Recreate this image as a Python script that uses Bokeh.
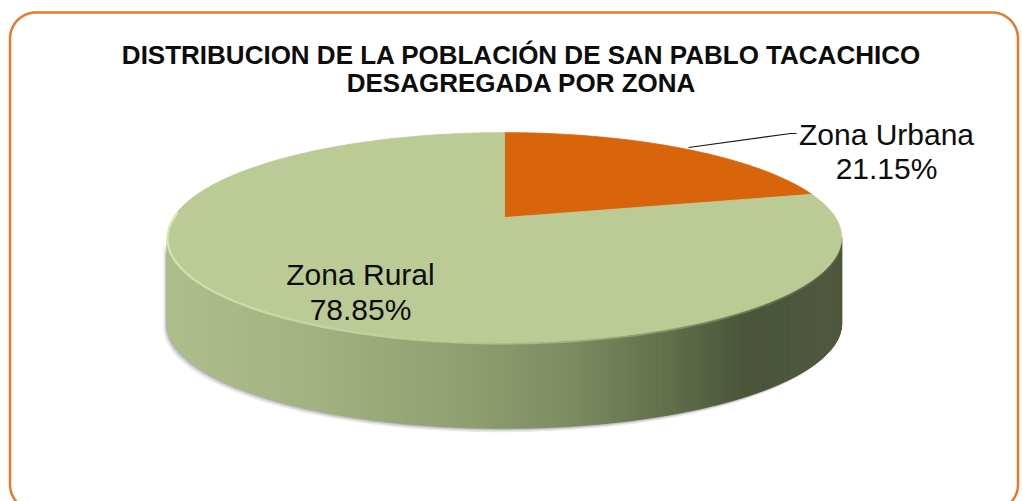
import numpy as np
from bokeh.plotting import figure
from bokeh.models import Range1d, Label
from bokeh.embed import file_html
from bokeh.resources import INLINE

# ---- data ----
categories = ["Zona Urbana", "Zona Rural"]
percentages = [21.15, 78.85]
slice_colors = ["#d8650b", "#bccb96"]
title_lines = ["DISTRIBUCION DE LA POBLACIÓN DE SAN PABLO TACACHICO",
               "DESAGREGADA POR ZONA"]

# ---- figure (screen pixel coordinates) ----
W, H = 1022, 501
p = figure(width=W, height=H, output_backend="svg", toolbar_location=None,
           x_range=Range1d(0, W), y_range=Range1d(H, 0),
           x_axis_location=None, y_axis_location=None, min_border=0)
p.grid.visible = False
p.outline_line_color = None
p.background_fill_color = "white"

# ---- 3D pie geometry (perspective disc) ----
CX, CY, A, B, K, D = 504.0, 217.0, 331.0, 101.0, 0.19, 86.0


def proj(t):
    d = 1 + K * np.sin(t)
    return CX + A * np.cos(t) / d, CY - B * np.sin(t) / d


tL = np.pi + np.arcsin(K)
tR = 2 * np.pi - np.arcsin(K)

# shadow
ts = np.linspace(tL, tR, 200)
sx, sy = proj(ts)
shx = np.concatenate([sx, sx[::-1]])
shy = np.concatenate([sy, sy[::-1] + D])
for off, al in [(4, 0.12), (2.5, 0.18), (1.2, 0.25)]:
    p.patch(shx - off, shy + off, fill_color="#555555", fill_alpha=al, line_color=None)

# side with horizontal gradient
stops = [(0.0, "#aebf8c"), (0.2, "#a4b482"), (0.45, "#909f70"), (0.6, "#7d8c62"),
         (0.75, "#616e4a"), (0.86, "#4b553a"), (1.0, "#505a3e")]
sp = np.array([s[0] for s in stops])
rgb = np.array([[int(c[i:i + 2], 16) for i in (1, 3, 5)] for _, c in stops])

N = 240
tt = np.linspace(tL, tR, N + 1)
px, py = proj(tt)
xs, ys, cols = [], [], []
xmin, xmax = px.min(), px.max()
for i in range(N):
    xs.append([px[i], px[i + 1], px[i + 1], px[i]])
    ys.append([py[i], py[i + 1], py[i + 1] + D, py[i] + D])
    f = ((px[i] + px[i + 1]) / 2 - xmin) / (xmax - xmin)
    c = [int(np.interp(f, sp, rgb[:, j])) for j in range(3)]
    cols.append("#%02x%02x%02x" % tuple(c))
p.patches(xs, ys, fill_color=cols, line_color=cols, line_width=1)

# top face wedges
start = np.pi / 2
for pct, col in zip(percentages, slice_colors):
    sweep = 2 * np.pi * pct / 100.0
    t = np.linspace(start, start - sweep, max(int(400 * pct / 100), 20))
    wx, wy = proj(t)
    p.patch(np.concatenate([[CX], wx]), np.concatenate([[CY], wy]),
            fill_color=col, line_color=col, line_width=0.8)
    start -= sweep

# rim highlight on near edge
th = np.linspace(tL - 0.25, tR, 120)
hx, hy = proj(th)
for i in range(len(th) - 1):
    f = i / (len(th) - 1)
    p.line([hx[i], hx[i + 1]], [hy[i] + 1.2, hy[i + 1] + 1.2], line_color="#ddf0b4",
           line_width=2.2, line_alpha=max(0.0, 0.9 - 0.9 * f))

# leader line for Zona Urbana
p.line([688, 790, 796], [147, 133, 133], line_color="#1a1a1a", line_width=1.2)

# data labels
lab_pos = [(886, 134, 168), (360, 274, 309)]
for cat, pct, (lx, ly1, ly2) in zip(categories, percentages, lab_pos):
    p.add_layout(Label(x=lx, y=ly1, text=cat, text_font="Liberation Sans",
                       text_font_size="30px", text_color="#0d0d0d",
                       text_align="center", text_baseline="alphabetic"))
    p.add_layout(Label(x=lx, y=ly2, text=f"{pct:.2f}%", text_font="Liberation Sans",
                       text_font_size="30px", text_color="#0d0d0d",
                       text_align="center", text_baseline="alphabetic"))

# title
for line, ty in zip(title_lines, [54, 82]):
    p.add_layout(Label(x=521, y=ty, text=line, text_font="Liberation Sans",
                       text_font_size="26px", text_font_style="bold",
                       text_color="#0d0d0d", text_align="center",
                       text_baseline="alphabetic"))

# rounded orange border
x0, x1, y0, y1, r = 9.5, 1017.5, 12.0, 510.0, 26.0
a = np.linspace(0, np.pi / 2, 20)
bx = np.concatenate([x0 + r - r * np.cos(a), x1 - r + r * np.sin(a),
                     x1 - r + r * np.cos(a), x0 + r - r * np.sin(a), [x0]])
by = np.concatenate([y0 + r - r * np.sin(a), y0 + r - r * np.cos(a),
                     y1 - r + r * np.sin(a), y1 - r + r * np.cos(a), [y0 + r]])
p.line(bx, by, line_color="#e8782a", line_width=2.5)

open("out.html", "w").write(file_html(p, INLINE))
